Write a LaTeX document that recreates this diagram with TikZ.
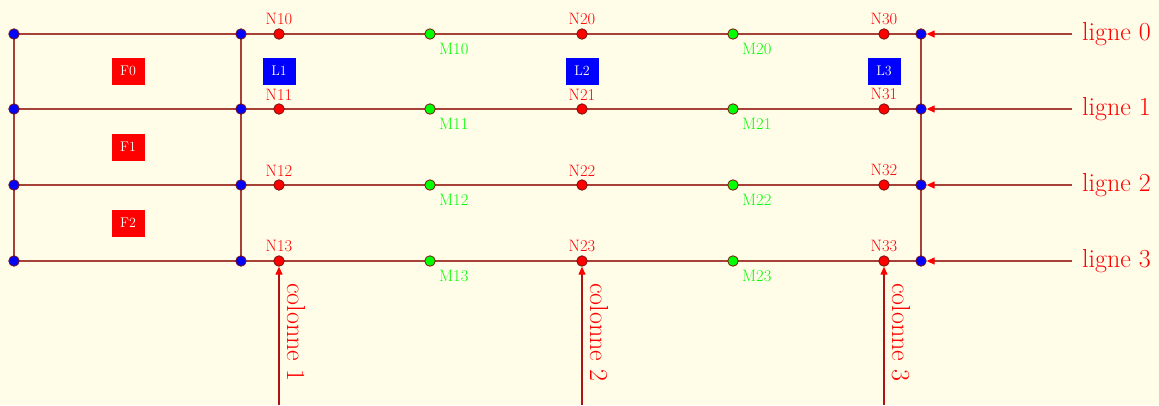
\documentclass[tikz,border=0pt]{standalone}
\usetikzlibrary{arrows.meta,backgrounds}
\definecolor{bg}{RGB}{255,252,232}
\definecolor{ln}{RGB}{165,65,55}
\definecolor{dotb}{RGB}{120,20,20}
\definecolor{colarr}{RGB}{175,20,20}
\begin{document}
\begin{tikzpicture}[x=1pt,y=-1pt,
  label distance=3pt,
  dot/.style={circle,draw=dotb,line width=0.8pt,minimum size=10.5pt,inner sep=0},
  bdot/.style={dot,fill=blue},
  rdot/.style={dot,fill=red},
  gdot/.style={dot,fill=green},
  gridline/.style={draw=ln,line width=1.4pt},
  nlab/.style={text=red,font=\fontsize{16.5}{16.5}\selectfont,inner sep=0},
  mlab/.style={text=green,font=\fontsize{16.5}{16.5}\selectfont,inner sep=0},
  box/.style={minimum width=33pt,minimum height=27pt,inner sep=0,text=white,font=\fontsize{14}{14}\selectfont},
  big/.style={text=red,font=\fontsize{26}{26}\selectfont,inner sep=0},
  arr/.style={draw=ln,line width=1.2pt,-{Triangle[length=8pt,width=7pt,fill=red,color=red]}},
  carr/.style={draw=colarr,line width=1.2pt,-{Triangle[length=8pt,width=7pt,fill=red,color=red]}}]
\useasboundingbox (0,0) rectangle (1159,405);
\foreach \r/\y in {0/34,1/109,2/185,3/261}{
  \node[bdot] (A\r) at (14,\y) {};
  \node[bdot] (B\r) at (241,\y) {};
  \node[bdot] (E\r) at (921,\y) {};
  \foreach \c/\x in {1/279,2/582,3/884}
    \node[rdot,label={[nlab]above:N\c\r}] (N\c\r) at (\x,\y) {};
  \foreach \k/\x in {1/430,2/733}{
    \node[gdot] (M\k\r) at (\x,\y) {};
    \node[mlab,anchor=base west] (ML\k\r) at (\x+9,\y+20) {M\k\r};
  }
  \node[big,anchor=west,inner xsep=10pt] (T\r) at (1072,\y) {ligne \r};
  \draw[arr] (T\r.west) -- (E\r);
}
\foreach \c/\x in {1/279,2/582,3/884}{
  \coordinate (S\c) at (\x,405);
  \node[big,rotate=-90,anchor=base west] (C\c) at (\x+8,283) {colonne \c};
  \draw[carr] (S\c) -- (N\c3);
}
\node[box,fill=red] (F0) at (128,71) {F0};
\node[box,fill=red] (F1) at (128,147) {F1};
\node[box,fill=red] (F2) at (128,223) {F2};
\node[box,fill=blue] (L1) at (279,71) {L1};
\node[box,fill=blue] (L2) at (582,71) {L2};
\node[box,fill=blue] (L3) at (884,71) {L3};
\begin{pgfonlayer}{background}
  \fill[bg] (0,0) rectangle (1159,405);
  \foreach \r in {0,1,2,3} \draw[gridline] (A\r.center) -- (E\r.center);
  \draw[gridline] (A0.center) -- (A3.center);
  \draw[gridline] (B0.center) -- (B3.center);
  \draw[gridline] (E0.center) -- (E3.center);
\end{pgfonlayer}
\end{tikzpicture}
\end{document}
